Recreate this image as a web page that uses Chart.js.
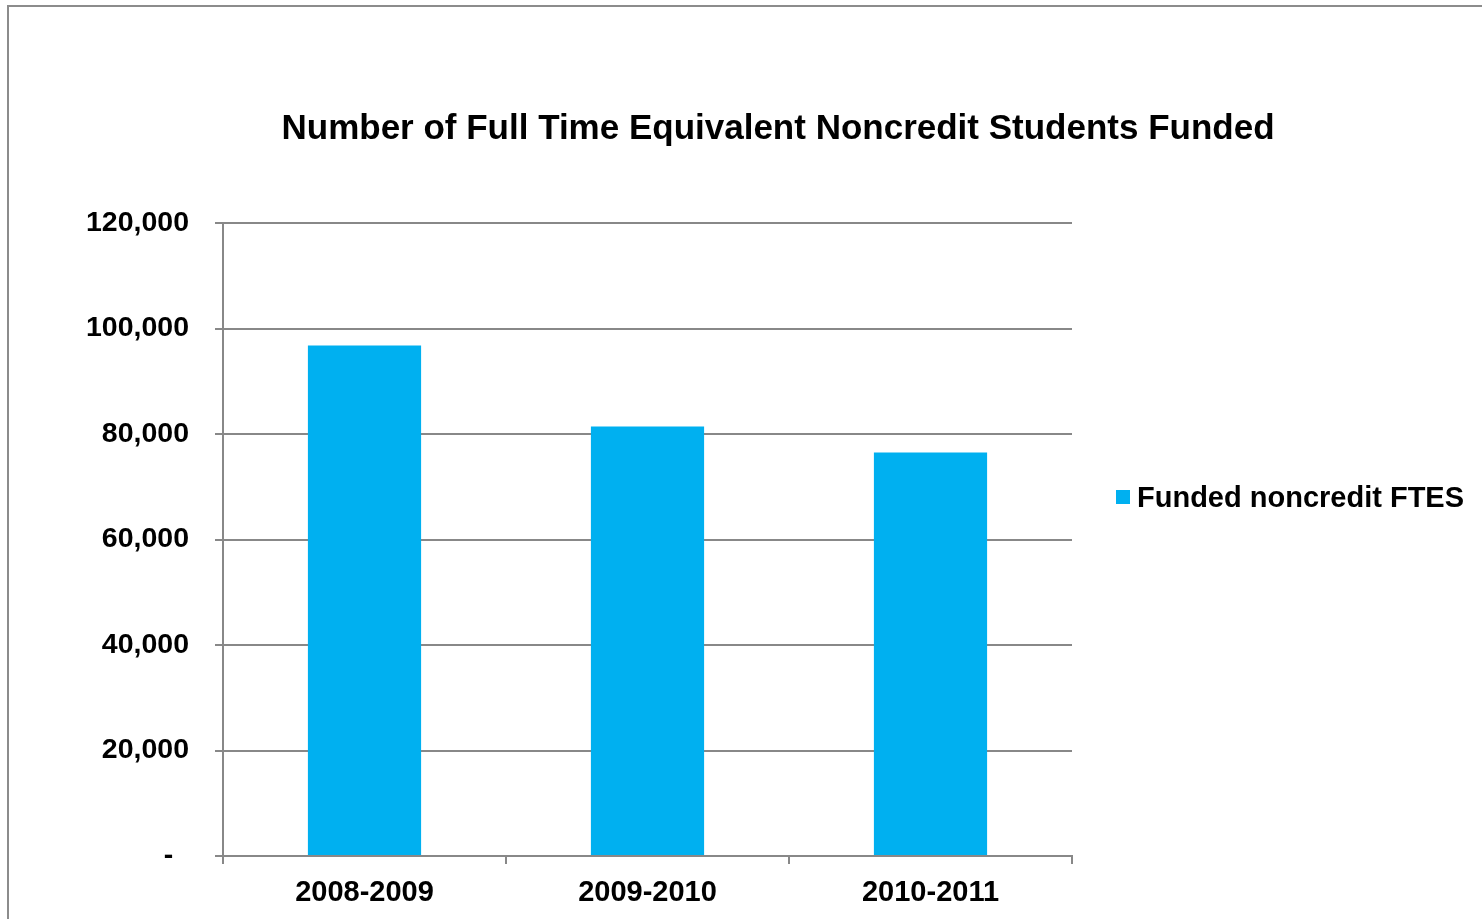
<!DOCTYPE html>
<html>
<head>
<meta charset="utf-8">
<title>Funded noncredit FTES</title>
<script src="https://cdn.jsdelivr.net/npm/chart.js@4/dist/chart.umd.min.js"></script>
<style>
  html, body { margin: 0; padding: 0; background: #fff; }
  #wrap { position: relative; width: 1482px; height: 919px; overflow: hidden; }
  #frame {
    position: absolute; left: 7px; top: 5px; right: -4px; bottom: -4px;
    border-left: 2px solid #8c8c8c; border-top: 2px solid #8c8c8c;
  }
  canvas { position: absolute; left: 0; top: 0; }
</style>
</head>
<body>
<div id="wrap">
  <div id="frame"></div>
  <canvas id="fteChart" width="1482" height="919"></canvas>
</div>
<script>
const chartTitle = 'Number of Full Time Equivalent Noncredit Students Funded';
const seriesName = 'Funded noncredit FTES';
const years = ['2008-2009', '2009-2010', '2010-2011'];
const fundedFtes = [96800, 81400, 76500];
const yTicks = [0, 20000, 40000, 60000, 80000, 100000, 120000];

const barColor = '#00b0f0';
const lineColor = '#888888';
const fontFamily = '"Liberation Sans", Arial, Helvetica, sans-serif';

// title and legend are drawn by hand so they sit where the sheet had them
const titleAndLegend = {
  id: 'titleAndLegend',
  afterDraw(chart) {
    const ctx = chart.ctx;
    ctx.save();
    ctx.fillStyle = '#000';
    ctx.textBaseline = 'middle';

    ctx.font = 'bold 35px ' + fontFamily;
    ctx.textAlign = 'center';
    ctx.fillText(chartTitle, 778, 129);

    ctx.fillStyle = barColor;
    ctx.fillRect(1116, 490, 14, 14);
    ctx.fillStyle = '#000';
    ctx.font = 'bold 29px ' + fontFamily;
    ctx.textAlign = 'left';
    ctx.fillText(chart.data.datasets[0].label, 1137, 499);
    ctx.restore();
  }
};

new Chart(document.getElementById('fteChart'), {
  type: 'bar',
  data: {
    labels: years,
    datasets: [{
      label: seriesName,
      data: fundedFtes,
      backgroundColor: barColor,
      borderWidth: 0,
      categoryPercentage: 1,
      barPercentage: 0.4
    }]
  },
  options: {
    responsive: false,
    animation: false,
    layout: { padding: { left: 0, top: 223, right: 410, bottom: 0 } },
    plugins: {
      legend: { display: false },
      title: { display: false },
      tooltip: { enabled: false }
    },
    scales: {
      x: {
        afterFit: scale => { scale.height = 63; },
        grid: {
          offset: true,
          drawOnChartArea: false,
          drawTicks: true,
          tickLength: 8,
          color: lineColor,
          lineWidth: 2
        },
        border: { display: true, color: lineColor, width: 2 },
        ticks: {
          color: '#000',
          padding: 12,
          font: { family: fontFamily, size: 29, weight: 'bold' }
        }
      },
      y: {
        min: 0,
        max: 120000,
        afterFit: scale => { scale.width = 223; },
        afterBuildTicks: scale => { scale.ticks = yTicks.map(v => ({ value: v })); },
        grid: {
          color: lineColor,
          lineWidth: 2,
          tickLength: 8
        },
        border: { display: true, color: lineColor, width: 2 },
        ticks: {
          color: '#000',
          padding: 26,
          font: { family: fontFamily, size: 28.5, weight: 'bold' },
          callback: v => v === 0 ? '-  ' : v.toLocaleString('en-US')
        }
      }
    }
  },
  plugins: [titleAndLegend]
});
</script>
</body>
</html>
